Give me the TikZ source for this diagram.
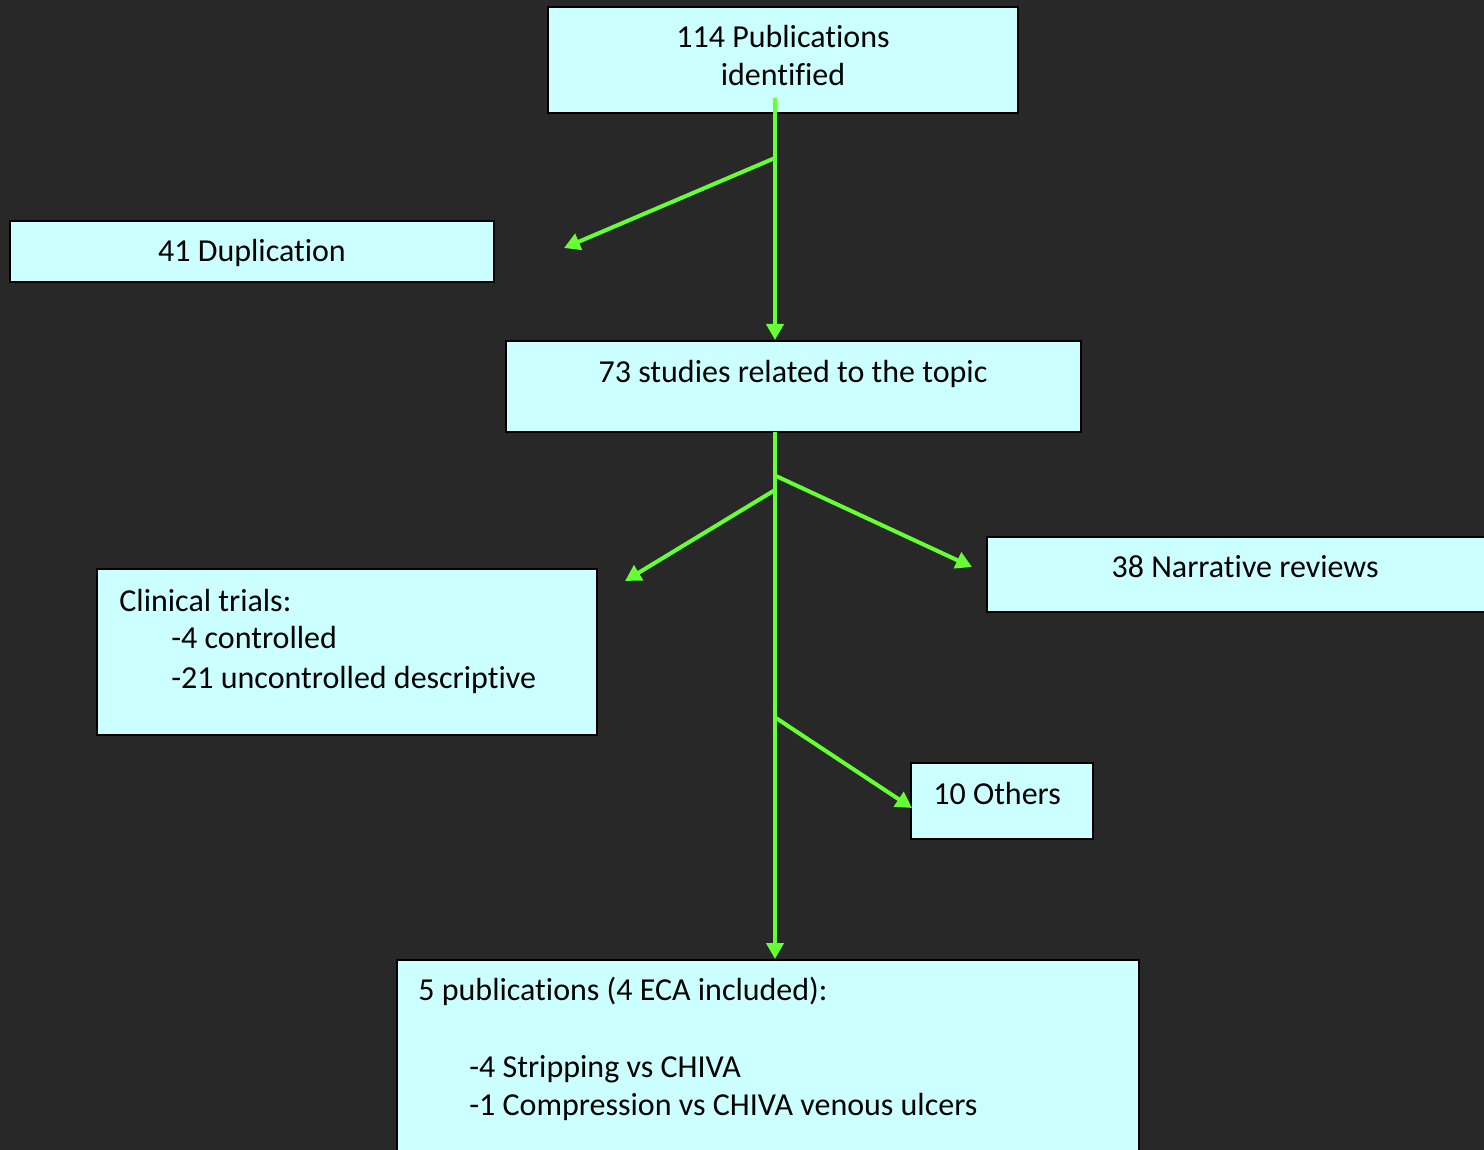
\documentclass[tikz,border=0pt]{standalone}
\usepackage{fontspec}
\setmainfont[Ligatures=NoCommon]{Carlito}
\usetikzlibrary{arrows.meta,fit}
\definecolor{bg}{HTML}{282828}
\definecolor{boxfill}{HTML}{CCFFFF}
\definecolor{arrgreen}{HTML}{66FF33}
\begin{document}
\begin{tikzpicture}[x=0.5pt,y=-0.5pt,
  box/.style={draw=black,line width=1pt,fill=boxfill,inner sep=0pt,rectangle},
  txt/.style={inner sep=0pt,font=\fontsize{16}{19}\selectfont,text=black},
  arr/.style={draw=arrgreen,line width=2pt,-{Triangle[length=8pt,width=8.5pt]}},
  ln/.style={draw=arrgreen,line width=2pt}]
\fill[bg] (0,0) rectangle (1484,1150);
\useasboundingbox (0,0) rectangle (1484,1150);
% boxes
\node[box,fit={(548,7) (1018,113)}] (top) {};
\node[box,fit={(10,221) (494,282)}] (dup) {};
\node[box,fit={(506,341) (1081,432)}] (rel) {};
\node[box,fit={(97,569) (597,735)}] (clin) {};
\node[box,fit={(987,537) (1490,612)}] (narr) {};
\node[box,fit={(911,763) (1093,839)}] (oth) {};
\node[box,fit={(397,960) (1139,1160)}] (pub) {};
% texts
\node[txt,anchor=base] (t1a) at (783,48) {114 Publications};
\node[txt,anchor=base] (t1b) at (783,86) {identified};
\node[txt,anchor=base] (t2) at (252,262) {41 Duplication};
\node[txt,anchor=base] (t3) at (793,382) {73 studies related to the topic};
\node[txt,anchor=base west] (t4a) at (119,611) {Clinical trials:};
\node[txt,anchor=base west] (t4b) at (171,648) {-4 controlled};
\node[txt,anchor=base west] (t4c) at (171,688) {-21 uncontrolled descriptive};
\node[txt,anchor=base] (t5) at (1245,577) {38 Narrative reviews};
\node[txt,anchor=base west] (t6) at (933,804) {10 Others};
\node[txt,anchor=base west] (t7a) at (418,1000) {5 publications (4 ECA included):};
\node[txt,anchor=base west] (t7b) at (469,1077) {-4 Stripping vs CHIVA};
\node[txt,anchor=base west] (t7c) at (469,1115) {-1 Compression vs CHIVA venous ulcers};
% connector points
\coordinate (s1) at (775,98);
\coordinate (j1) at (775,158);
\coordinate (d1) at (564,248);
\coordinate (s2) at (775,432);
\coordinate (jl) at (775,490);
\coordinate (cl) at (625,581);
\coordinate (jr) at (776,476);
\coordinate (nr) at (972,567);
\coordinate (jo) at (776,718);
\coordinate (oe) at (912,808);
% connectors
\draw[arr] (s1) -- (s1 |- rel.north);
\draw[arr] (j1) -- (d1);
\draw[arr] (s2) -- (s2 |- pub.north);
\draw[arr] (jl) -- (cl);
\draw[arr] (jr) -- (nr);
\draw[arr] (jo) -- (oe);
\end{tikzpicture}
\end{document}
